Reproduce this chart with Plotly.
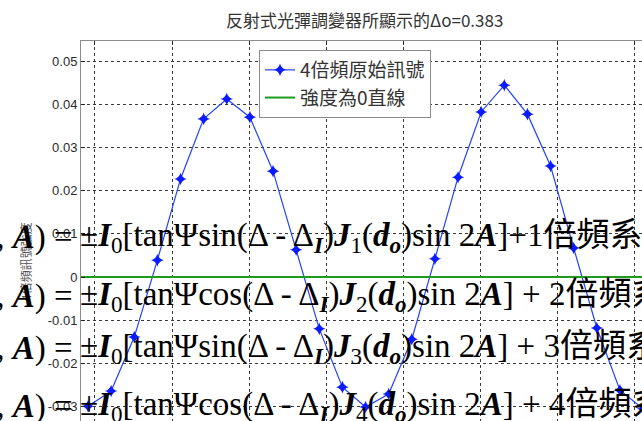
import plotly.graph_objects as go

# Analyzer angle (deg) and the 4th-harmonic raw signal read at each step
angles = [0, 15, 30, 45, 60, 75, 90, 105, 120, 135, 150, 165, 180,
          195, 210, 225, 240, 255, 270, 285, 300, 315, 330, 345, 360]
signal_4x = [-0.0299, -0.0264, -0.0139, 0.0039, 0.0227, 0.0366, 0.0412,
             0.0370, 0.0245, 0.0063, -0.0120, -0.0255, -0.0301, -0.0271,
             -0.0144, 0.0042, 0.0231, 0.0382, 0.0444, 0.0377, 0.0257,
             0.0067, -0.0118, -0.0262, -0.0305]

# Reference line at zero intensity
zero_x = [-4.54, 400]
zero_y = [0, 0]

y_ticks = [0.05, 0.04, 0.03, 0.02, 0.01, 0, -0.01, -0.02, -0.03]
y_labels = ["0.05", "0.04", "0.03", "0.02", "0.01", "0", "-0.01", "-0.02", "-0.03"]

title_text = "反射式光彈調變器所顯示的Δo=0.383"
y_title = "4倍頻訊號強度"

W, H = 642, 421
ML, MT = 81, 41
PW, PH = W - ML, H - MT


def px_x(px):
    return (px - ML) / PW


def px_y(py):
    return (H - py) / PH


fig = go.Figure()
fig.add_trace(go.Scatter(
    x=angles, y=signal_4x, mode="lines+markers", name="4倍頻原始訊號",
    line=dict(color="#2343ff", width=1.2),
    marker=dict(symbol="star-diamond", size=9, color="#0a1cff"),
))
fig.add_trace(go.Scatter(
    x=zero_x, y=zero_y, mode="lines", name="強度為0直線",
    line=dict(color="#1c9e1c", width=2),
))

grid = dict(showgrid=True, gridcolor="#3a3a3a", gridwidth=1, griddash="3px,3px",
            zeroline=False, showline=True, linecolor="#8c8c8c", linewidth=1,
            ticks="inside", ticklen=4, tickcolor="#222")

fig.update_layout(
    width=W, height=H,
    margin=dict(l=ML, r=0, t=MT, b=0),
    paper_bgcolor="white", plot_bgcolor="white",
    showlegend=True,
    xaxis=dict(range=[-4.54, 359.3], side="top", tick0=4.5, dtick=50,
               showticklabels=False, **grid),
    yaxis=dict(range=[-0.03333, 0.05463], tickvals=y_ticks, ticktext=y_labels,
               tickfont=dict(family="Liberation Sans, Arial", size=13, color="#2a2a2a"),
               **grid),
    legend=dict(x=px_x(259), y=px_y(50), xanchor="left", yanchor="top",
                bgcolor="white", bordercolor="#8c8c8c", borderwidth=1,
                font=dict(family="Noto Sans CJK TC", size=19, color="#333"),
                tracegroupgap=0, itemwidth=30),
)

fig.add_annotation(text=title_text, xref="paper", yref="paper",
                   x=px_x(364), y=px_y(19), xanchor="center", yanchor="middle",
                   showarrow=False,
                   font=dict(family="Noto Sans CJK TC", size=17, color="#333"))

fig.add_annotation(text=y_title, xref="paper", yref="paper", textangle=-90,
                   x=px_x(25), y=px_y(262), xanchor="center", yanchor="middle",
                   showarrow=False,
                   font=dict(family="Noto Sans CJK TC", size=12, color="#555"))

# Harmonic coefficient formulas drawn over the chart
eq_font = dict(family="Liberation Serif, Noto Sans CJK TC", size=33, color="black")
bI = "<b><i>I</i></b>"
bJ = "<b><i>J</i></b>"
bA = "<b><i>A</i></b>"
bd = "<b><i>d</i></b>"
bo = "<b><i>o</i></b>"

formulas = [
    ("sin", "1", "+", 238),
    ("cos", "2", " + ", 296),
    ("sin", "3", " + ", 348),
    ("cos", "4", " + ", 406),
]
for trig, n, plus, cy in formulas:
    left = "Δ, " + bA + ")\u00a0="
    right = ("±" + bI + "<sub>0</sub>[tanΨ" + trig + "(Δ - Δ<sub>" + bI + "</sub>)"
             + bJ + "<sub>" + n + "</sub>(" + bd + "<sub>" + bo + "</sub>)sin 2" + bA
             + "]" + plus + n + "倍頻系數")
    fig.add_annotation(text=left, xref="paper", yref="paper", x=px_x(75), y=px_y(cy),
                       xanchor="right", yanchor="middle", showarrow=False, font=eq_font)
    fig.add_annotation(text=right, xref="paper", yref="paper", x=px_x(78), y=px_y(cy),
                       xanchor="left", yanchor="middle", showarrow=False, font=eq_font)

fig.write_html("out.html")
